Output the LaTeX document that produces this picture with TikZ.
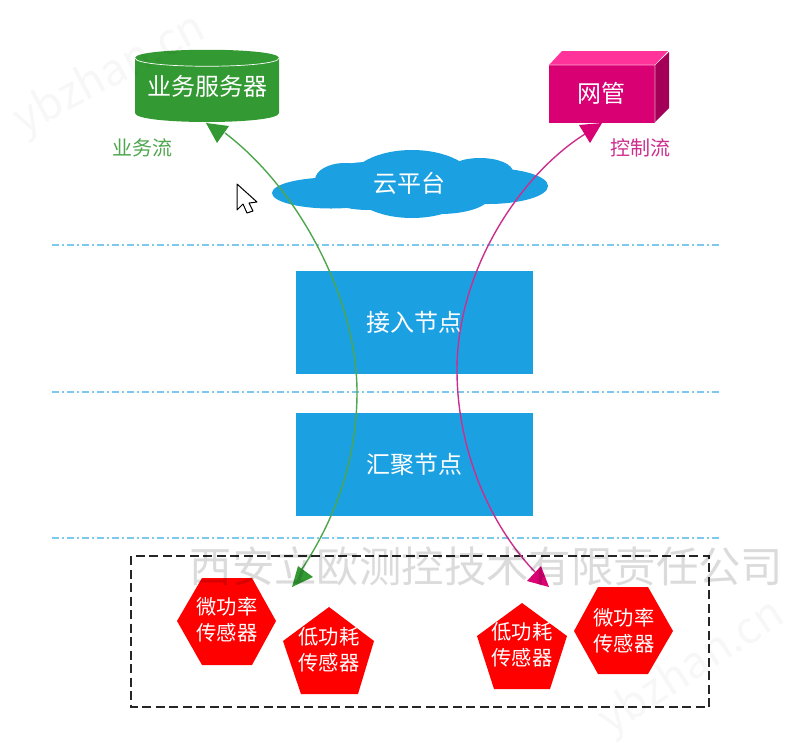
\documentclass[tikz,border=0pt]{standalone}
\usepackage{fontspec}
\setmainfont{Noto Sans CJK SC}
\definecolor{cblue}{HTML}{1BA1E2}
\definecolor{cline}{HTML}{7CC8EE}
\definecolor{cgreen}{HTML}{339933}
\definecolor{cmag}{HTML}{D80073}
\definecolor{cmagl}{HTML}{FF3399}
\definecolor{cmagd}{HTML}{A50057}
\definecolor{cflowg}{HTML}{4EA64E}
\definecolor{cflowm}{HTML}{CC2E8E}
\tikzset{
  lbl/.style={inner sep=0pt,text=white,align=center},
  big/.style={lbl,font=\fontsize{24}{26}\selectfont},
  small/.style={lbl,font=\fontsize{20.3}{26}\selectfont},
  flow/.style={inner sep=0pt,font=\fontsize{20}{24}\selectfont},
  layer/.style={draw=none,fill=cblue,minimum width=237pt,minimum height=103pt,lbl,font=\fontsize{24}{26}\selectfont},
  sep/.style={cline,line width=1.4pt,dash pattern=on 7pt off 3pt on 2pt off 3pt},
  ybzmark/.style={inner sep=0pt,text=black,text opacity=0.03,font=\fontsize{44}{46}\selectfont},
  wm/.style={inner sep=0pt,text=black,text opacity=0.14,font=\fontsize{42.4}{46}\selectfont},
}
\begin{document}
\begin{tikzpicture}[x=1pt,y=-1pt]
\useasboundingbox (0,0) rectangle (800,745);
% separators
\coordinate (s1a) at (52,245); \coordinate (s1b) at (719,245);
\coordinate (s2a) at (52,392); \coordinate (s2b) at (719,392);
\coordinate (s3a) at (52,538); \coordinate (s3b) at (719,538);
\draw[sep] (s1a) -- (s1b);
\draw[sep] (s2a) -- (s2b);
\draw[sep] (s3a) -- (s3b);
% cylinder
\fill[cgreen] (135,58) -- (135,113) .. controls (135,125) and (279,125) .. (279,113) -- (279,58) .. controls (279,47) and (135,47) .. (135,58) -- cycle;
\draw[white,line width=0.7pt] (135,58) .. controls (135,69) and (279,69) .. (279,58);
\node[big] (server) at (207.5,86) {业务服务器};
% box
\fill[cmag] (549,65) rectangle (655,123);
\fill[cmagl] (549,65) -- (562,51) -- (668,51) -- (655,65) -- cycle;
\fill[cmagd] (655,65) -- (669,52) -- (669,108) -- (655,122) -- cycle;
\draw[white,opacity=.6,line width=.6pt] (549,65) -- (655,65) -- (655,123) (655,65) -- (668,52);
\node[big] (gateway) at (601,93) {网管};
% cloud
\fill[cblue] (331,193) ellipse[x radius=59,y radius=15.5];
\fill[cblue] (368,186) ellipse[x radius=52,y radius=24];
\fill[cblue] (345,180) ellipse[x radius=30,y radius=17];
\fill[cblue] (412,184) ellipse[x radius=64,y radius=34];
\fill[cblue] (488,186) ellipse[x radius=60,y radius=18];
\fill[cblue] (480,172) ellipse[x radius=33,y radius=14];
\fill[cblue] (440,196) ellipse[x radius=50,y radius=18];
\node[big] (cloudtxt) at (409,183) {云平台};
% flow labels
\node[flow,text=cflowg] (flowg) at (142,148) {业务流};
\node[flow,text=cflowm] (flowm) at (640,148) {控制流};
% layers
\node[layer] (access) at (414.5,322.5) {接入节点};
\node[layer] (agg) at (414.5,464) {汇聚节点};
% sensor box
\draw[black!85,line width=1.3pt,dash pattern=on 9pt off 4.5pt] (131,556) rectangle (709,707);
% sensors
\fill[red] (202,578) -- (252,578) -- (276,621) -- (252,665) -- (202,665) -- (177,621) -- cycle;
\node[small] (hex1) at (227,620) {微功率\\传感器};
\fill[red] (329,607) -- (374,641) -- (358,694) -- (301,694) -- (283,641) -- cycle;
\node[small] (pen1) at (329,650) {低功耗\\传感器};
\fill[red] (522,603) -- (567,636) -- (550,689) -- (494,689) -- (477,636) -- cycle;
\node[small] (pen2) at (522,645) {低功耗\\传感器};
\fill[red] (598,587) -- (648,587) -- (673,631) -- (648,674) -- (598,674) -- (574,631) -- cycle;
\node[small] (hex2) at (624,631) {微功率\\传感器};
% connectors
\coordinate (gtop) at (225,133); \coordinate (gmid) at (357,392); \coordinate (gbot) at (300,572);
\coordinate (mtop) at (585,134); \coordinate (mmid) at (457,370); \coordinate (mbot) at (535,572);
\draw[cflowg,line width=1.4pt] (gtop) .. controls (300,190) and (357,300) .. (gmid) .. controls (357,460) and (335,520) .. (gbot);
\draw[cflowm,line width=1.4pt] (mtop) .. controls (520,175) and (457,270) .. (mmid) .. controls (457,450) and (490,525) .. (mbot);
\fill[cgreen] (206,123) -- (229,126) -- (217,143) -- cycle;
\fill[cgreen] (298,566) -- (313,577) -- (292,587) -- cycle;
\fill[cmag] (579,125) -- (602,123) -- (590,143) -- cycle;
\fill[cmag] (541,566) -- (527,581) -- (549,587) -- cycle;
% cursor
\draw[black,fill=white,line width=1pt,line join=round] (237,184) -- (237,210) -- (243,204) -- (247,213) -- (253,211) -- (249,203) -- (257,202) -- cycle;
% watermarks
\node[wm] (wmark) at (486.5,566) {西安立欧测控技术有限责任公司};
\node[ybzmark,rotate=28] (ybz1) at (110,75) {ybzhan.cn};
\node[ybzmark,rotate=33] (ybz2) at (692,668) {ybzhan.cn};
\end{tikzpicture}
\end{document}
